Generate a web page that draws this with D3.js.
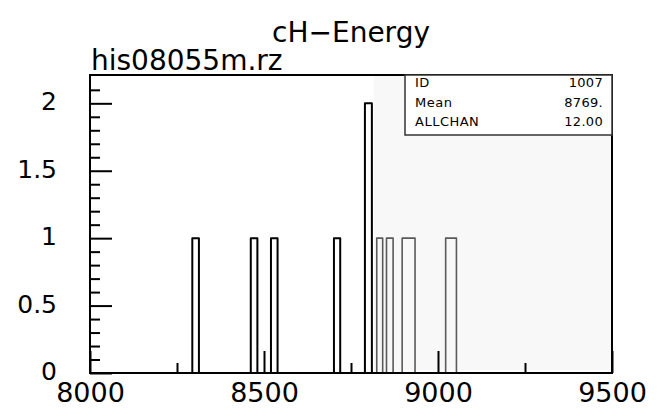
<!DOCTYPE html>
<html>
<head>
<meta charset="utf-8">
<script src="https://cdn.jsdelivr.net/npm/d3@7"></script>
<style>
  html, body { margin: 0; padding: 0; background: #fff; }
  svg { display: block; }
  text { font-family: "DejaVu Sans", sans-serif; fill: #000; }
</style>
</head>
<body>
<svg id="chart" width="661" height="415"></svg>
<script>
// ---- data ----
const title = "cH\u2212Energy";
const fileName = "his08055m.rz";
// histogram bins: lower edge, upper edge, contents
const binLow  = [8294, 8462, 8520, 8701, 8790, 8824, 8852, 8897, 8915.5, 9022, 9037.5];
const binHigh = [8313, 8481, 8539, 8719, 8810, 8841, 8871, 8915.5, 8934, 9037.5, 9053];
const binCount = [1, 1, 1, 1, 2, 1, 1, 1, 1, 1, 1];
const xMajorTicks = [8000, 8500, 9000, 9500];
const xTickLabels = ["8000", "8500", "9000", "9500"];
const xMinorTicks = [8250, 8750, 9250];
const yMajorTicks = [0, 0.5, 1, 1.5, 2];
const yMinorTicks = [0.1,0.2,0.3,0.4,0.6,0.7,0.8,0.9,1.1,1.2,1.3,1.4,1.6,1.7,1.8,1.9,2.1];
const yTickLabels = ["0", "0.5", "1", "1.5", "2"];
const statNames = ["ID", "Mean", "ALLCHAN"];
const statValues = ["1007", "8769.", "12.00"];

// ---- layout ----
const L = 90, R = 612, T = 75, B = 373;
const svg = d3.select("#chart");
const x = d3.scaleLinear().domain([8000, 9500]).range([L, R]);
const y = d3.scaleLinear().domain([0, 2.21]).range([B, T]);

// faint scanned panel on the right
svg.append("rect").attr("x", 374).attr("y", T + 1).attr("width", R - 374 - 1).attr("height", B - T - 4)
  .attr("fill", "#f8f8f8");

// clip paths to reproduce darker left / greyer right strokes
const defs = svg.append("defs");
defs.append("clipPath").attr("id", "cl").append("rect").attr("x", 0).attr("y", 0).attr("width", 374).attr("height", 415);
defs.append("clipPath").attr("id", "cr").append("rect").attr("x", 374).attr("y", 0).attr("width", 300).attr("height", 415);

// histogram outline: merge contiguous bins
const bins = binLow.map((lo, i) => ({lo, hi: binHigh[i], c: binCount[i]}));
const groups = [];
bins.forEach(b => {
  const g = groups[groups.length - 1];
  if (g && Math.abs(g[g.length - 1].hi - b.lo) < 1e-6) g.push(b); else groups.push([b]);
});
const line = d3.line().x(d => x(d[0])).y(d => y(d[1]));
function pts(g) {
  const p = [[g[0].lo, 0]];
  g.forEach(b => { p.push([b.lo, b.c]); p.push([b.hi, b.c]); });
  p.push([g[g.length - 1].hi, 0]);
  return p;
}
[["cl", "#000", 2], ["cr", "#5a5a5a", 1.6]].forEach(([cid, col, w]) => {
  svg.append("g").attr("clip-path", `url(#${cid})`)
    .selectAll("path").data(groups).join("path")
    .attr("d", g => line(pts(g)))
    .attr("fill", "none").attr("stroke", col).attr("stroke-width", w)
    .attr("stroke-linejoin", "round");
});

// axes (ticks inside the frame)
const yMajor = d3.axisLeft(y).tickValues(yMajorTicks).tickSizeInner(-22).tickSizeOuter(0).tickPadding(33)
  .tickFormat((d, i) => yTickLabels[i]);
const yMinor = d3.axisLeft(y).tickValues(yMinorTicks).tickSizeInner(-10).tickSizeOuter(0).tickFormat("");
const gy = svg.append("g").attr("transform", `translate(${L},0)`).call(yMajor);
svg.append("g").attr("transform", `translate(${L},0)`).call(yMinor);
const xMajor = d3.axisBottom(x).tickValues(xMajorTicks).tickSizeInner(-22).tickSizeOuter(0).tickPadding(10)
  .tickFormat((d, i) => xTickLabels[i]);
const xMinor = d3.axisBottom(x).tickValues(xMinorTicks).tickSizeInner(-10).tickSizeOuter(0).tickFormat("");
const gx = svg.append("g").attr("transform", `translate(0,${B})`).call(xMajor);
svg.append("g").attr("transform", `translate(0,${B})`).call(xMinor);
svg.selectAll(".domain").remove();
svg.selectAll(".tick line").attr("stroke", "#000").attr("stroke-width", 2);
gx.selectAll(".tick text").style("font-size", "27px").attr("fill", "#000");
gy.selectAll(".tick text").style("font-size", "25px").attr("fill", "#000").attr("dy", "0.26em");

// frame
svg.append("rect").attr("x", L).attr("y", T).attr("width", R - L).attr("height", B - T)
  .attr("fill", "none").attr("stroke", "#000").attr("stroke-width", 2);

// titles
svg.append("text").attr("x", 351).attr("y", 42).attr("text-anchor", "middle")
  .style("font-size", "28px").text(title);
svg.append("text").attr("x", 91).attr("y", 70).style("font-size", "28px").text(fileName);

// stats box
const bx = 405, by = T, bw = R - 405, bh = 60;
svg.append("rect").attr("x", bx).attr("y", by).attr("width", bw).attr("height", bh)
  .attr("fill", "#fff").attr("stroke", "#333").attr("stroke-width", 1.5);
const rowY = [87, 106.5, 125.5];
statNames.forEach((n, i) => {
  svg.append("text").attr("x", 415).attr("y", rowY[i]).style("font-size", "13px")
    .style("letter-spacing", "0.5px").text(n);
  svg.append("text").attr("x", 603).attr("y", rowY[i]).attr("text-anchor", "end")
    .style("font-size", "13px").style("letter-spacing", "0.3px").text(statValues[i]);
});
</script>
</body>
</html>
